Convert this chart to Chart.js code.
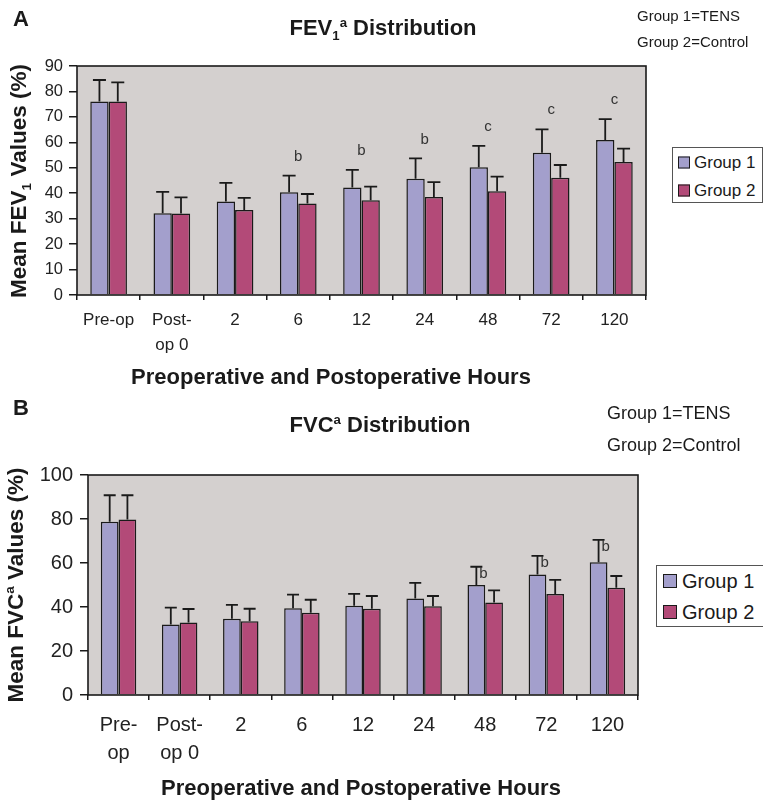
<!DOCTYPE html>
<html><head><meta charset="utf-8">
<script src="https://cdn.jsdelivr.net/npm/chart.js@4.4.1/dist/chart.umd.min.js"></script>
<style>
body{margin:0;background:#fff;}
#wrap{position:relative;width:763px;height:803px;overflow:hidden;background:#fff;font-family:"Liberation Sans",Arial,sans-serif;color:#1a1a1a;}
canvas{position:absolute;left:0;}
.t{position:absolute;white-space:nowrap;transform:translate(-50%,-50%);line-height:1;}
.l{position:absolute;white-space:nowrap;transform:translateY(-50%);line-height:1;}
.b{font-weight:bold;}
.rot{transform:translate(-50%,-50%) rotate(-90deg);}
sup,sub{font-size:0.6em;line-height:0;}
.legend{position:absolute;background:#fff;border:1px solid #555;box-sizing:border-box;}
.li{position:absolute;white-space:nowrap;line-height:1;transform:translateY(-50%);display:flex;align-items:center;}
.sw{display:inline-block;border:1.5px solid #1a1a1a;box-sizing:border-box;}
</style></head><body>
<div id="wrap">
  <canvas id="cA" width="763" height="395" style="top:0"></canvas>
  <canvas id="cB" width="763" height="408" style="top:395px"></canvas>

  <div class="l b" style="left:13px;top:19px;font-size:22px">A</div>
  <div class="t b" style="left:383px;top:28px;font-size:22px">FEV<sub>1</sub><sup>a</sup> Distribution</div>
  <div class="l" style="left:637px;top:15px;font-size:15px">Group 1=TENS</div>
  <div class="l" style="left:637px;top:41px;font-size:15px">Group 2=Control</div>
  <div class="t b rot" style="left:19px;top:181px;font-size:22.5px">Mean FEV<sub>1</sub> Values (%)</div>
  <div class="t b" style="left:331px;top:377px;font-size:22px">Preoperative and Postoperative Hours</div>
  <div class="legend" id="legA" style="left:672px;top:147px;width:91px;height:56px;font-size:17px"></div>

  <div class="l b" style="left:13px;top:408px;font-size:22px">B</div>
  <div class="t b" style="left:380px;top:425px;font-size:22px">FVC<sup>a</sup> Distribution</div>
  <div class="l" style="left:607px;top:413px;font-size:18px">Group 1=TENS</div>
  <div class="l" style="left:607px;top:445px;font-size:18px">Group 2=Control</div>
  <div class="t b rot" style="left:16px;top:585px;font-size:22.5px">Mean FVC<sup>a</sup> Values (%)</div>
  <div class="t b" style="left:361px;top:788px;font-size:22px">Preoperative and Postoperative Hours</div>
  <div class="legend" id="legB" style="left:656px;top:565px;width:108px;height:62px;font-size:20px"></div>
</div>
<script>
// ---- data ----
const seriesNames = ['Group 1', 'Group 2'];
const categoriesA = [['Pre-op'], ['Post-', 'op 0'], '2', '6', '12', '24', '48', '72', '120'];
const categoriesB = [['Pre-', 'op'], ['Post-', 'op 0'], '2', '6', '12', '24', '48', '72', '120'];

const fevGroup1 = [76, 32.1, 36.7, 40.4, 42.2, 45.7, 50.2, 55.9, 60.9];
const fevGroup1Err = [8.5, 8.4, 7.4, 6.5, 7.0, 8.0, 8.4, 9.2, 8.2];
const fevGroup2 = [76, 32, 33.4, 36, 37.2, 38.5, 40.8, 46.1, 52.3];
const fevGroup2Err = [7.6, 6.4, 4.8, 3.7, 5.4, 5.9, 5.7, 5.0, 5.2];
const fevLetters = ['', '', '', 'b', 'b', 'b', 'c', 'c', 'c'];

const fvcGroup1 = [78.8, 32, 34.7, 39.4, 40.6, 43.9, 50, 54.8, 60.3];
const fvcGroup1Err = [12, 7.7, 6.3, 6.2, 5.4, 7.1, 8.3, 8.4, 10.2];
const fvcGroup2 = [79.8, 32.9, 33.5, 37.4, 39.2, 40.3, 42, 45.9, 48.8];
const fvcGroup2Err = [11, 6.2, 5.7, 5.9, 5.8, 4.7, 5.6, 6.4, 5.3];
const fvcLetters = ['', '', '', '', '', '', 'b', 'b', 'b'];

const yTicksA = {min: 0, max: 90, step: 10};
const yTicksB = {min: 0, max: 100, step: 20};

// ---- style ----
const colors = ['#a39fcc', '#b34a78'];
const plotBg = '#d4d0cf';
const ink = '#1a1a1a';
const FONT = '"Liberation Sans", Arial, sans-serif';

const deco = {
  id: 'deco',
  beforeDraw(chart, args, o) {
    const {ctx, chartArea: a} = chart;
    ctx.save();
    ctx.fillStyle = o.bg;
    ctx.fillRect(a.left, a.top, a.right - a.left, a.bottom - a.top);
    ctx.restore();
  },
  afterDatasetsDraw(chart, args, o) {
    const {ctx, chartArea: a} = chart;
    const ys = chart.scales.y, xs = chart.scales.x;
    ctx.save();
    ctx.strokeStyle = ink;
    ctx.lineWidth = 1.8;
    const tops = [];
    chart.data.datasets.forEach((ds, i) => {
      const meta = chart.getDatasetMeta(i);
      tops[i] = [];
      meta.data.forEach((bar, j) => {
        const top = ys.getPixelForValue(ds.data[j] + ds.errors[j]);
        tops[i][j] = {x: bar.x, y: top};
        ctx.beginPath();
        ctx.moveTo(bar.x, bar.y);
        ctx.lineTo(bar.x, top);
        ctx.moveTo(bar.x - o.cap, top);
        ctx.lineTo(bar.x + o.cap, top);
        ctx.stroke();
      });
    });
    ctx.lineWidth = 1.6;
    ctx.strokeRect(a.left, a.top, a.right - a.left, a.bottom - a.top);
    ctx.fillStyle = '#333';
    ctx.font = o.letterSize + 'px ' + FONT;
    ctx.textBaseline = 'middle';
    o.letters.forEach((t, j) => {
      if (!t) return;
      if (o.mode === 'above') {
        ctx.textAlign = 'center';
        const y = Math.min(tops[0][j].y, tops[1][j].y) - o.gap;
        ctx.fillText(t, xs.getPixelForValue(j), y);
      } else {
        ctx.textAlign = 'left';
        ctx.fillText(t, tops[0][j].x + 3, tops[0][j].y + o.gap);
      }
    });
    ctx.restore();
  }
};

function makeChart(id, cats, d1, e1, d2, e2, yt, L) {
  new Chart(document.getElementById(id), {
    type: 'bar',
    data: {
      labels: cats,
      datasets: [
        {label: seriesNames[0], data: d1, errors: e1, backgroundColor: colors[0], borderColor: ink, borderWidth: 1.5},
        {label: seriesNames[1], data: d2, errors: e2, backgroundColor: colors[1], borderColor: ink, borderWidth: 1.5}
      ]
    },
    options: {
      responsive: false, animation: false, events: [],
      layout: {padding: {left: 0, right: L.right, top: L.top, bottom: 0}},
      datasets: {bar: {categoryPercentage: L.catPct, barPercentage: 1}},
      plugins: {
        legend: {display: false}, tooltip: {enabled: false},
        deco: {bg: plotBg, cap: L.cap, letters: L.letters, mode: L.mode, gap: L.gap, letterSize: 15}
      },
      scales: {
        x: {
          offset: true,
          grid: {drawOnChartArea: false, drawTicks: true, tickLength: 5, color: ink, lineWidth: 1.5, offset: true},
          border: {display: false},
          ticks: {color: '#222', font: {family: FONT, size: L.xFont, lineHeight: L.xLH}, padding: L.xPad, maxRotation: 0, autoSkip: false},
          afterFit(s) { s.height = L.xH; }
        },
        y: {
          min: yt.min, max: yt.max,
          grid: {drawOnChartArea: false, drawTicks: true, tickLength: 8, color: ink, lineWidth: 1.5},
          border: {display: false},
          ticks: {stepSize: yt.step, color: '#222', font: {family: FONT, size: L.yFont}, padding: L.yPad},
          afterFit(s) { s.width = L.yW; }
        }
      }
    },
    plugins: [deco]
  });
}

makeChart('cA', categoriesA, fevGroup1, fevGroup1Err, fevGroup2, fevGroup2Err, yTicksA,
  {right: 117, top: 66, yW: 77, xH: 100, catPct: 0.58, cap: 6.5, letters: fevLetters, mode: 'above', gap: 19,
   xFont: 17, xLH: 1.47, xPad: 8, yFont: 16.5, yPad: 6});
makeChart('cB', categoriesB, fvcGroup1, fvcGroup1Err, fvcGroup2, fvcGroup2Err, yTicksB,
  {right: 125, top: 80, yW: 88, xH: 108, catPct: 0.58, cap: 6, letters: fvcLetters, mode: 'right', gap: 7,
   xFont: 20, xLH: 1.4, xPad: 11, yFont: 20, yPad: 7});

function legend(id, sw, gapTop, spacing, swLeft, txtGap) {
  const el = document.getElementById(id);
  seriesNames.forEach((n, i) => {
    const d = document.createElement('div');
    d.className = 'li';
    d.style.left = swLeft + 'px';
    d.style.top = (gapTop + i * spacing) + 'px';
    d.innerHTML = '<span class="sw" style="width:' + sw + 'px;height:' + sw + 'px;background:' + colors[i] + ';margin-right:' + txtGap + 'px"></span>' + n;
    el.appendChild(d);
  });
}
legend('legA', 12, 14, 28, 5, 4);
legend('legB', 14, 15, 31, 6, 5);
</script>
</body></html>
